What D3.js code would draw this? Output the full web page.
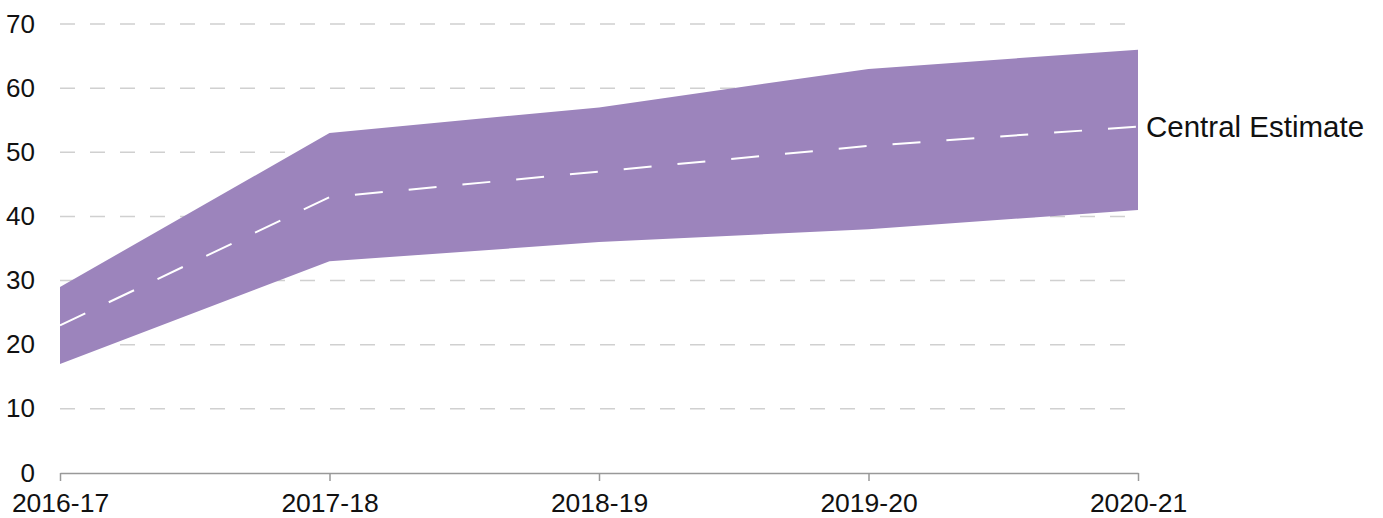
<!DOCTYPE html>
<html>
<head>
<meta charset="utf-8">
<script src="https://cdn.jsdelivr.net/npm/d3@7"></script>
<style>
  body { margin: 0; background: #fff; }
  svg { display: block; font-family: "Liberation Sans", Arial, sans-serif; }
</style>
</head>
<body>
<div id="chart"></div>
<script>
const years = ["2016-17", "2017-18", "2018-19", "2019-20", "2020-21"];
const upper = [29, 53, 57, 63, 66];
const lower = [17, 33, 36, 38, 41];
const central = [23, 43, 47, 51, 54];
const yTicks = [0, 10, 20, 30, 40, 50, 60, 70];

const width = 1383, height = 518;
const svg = d3.select("#chart").append("svg")
    .attr("width", width)
    .attr("height", height);

const x = d3.scalePoint().domain(years).range([60, 1138]);
const y = d3.scaleLinear().domain([0, 70]).range([473, 24]);

// dashed gridlines
svg.append("g")
    .selectAll("line")
    .data(yTicks.filter(d => d > 0))
    .enter()
    .append("line")
    .attr("x1", 60)
    .attr("x2", 1138)
    .attr("y1", d => y(d))
    .attr("y2", d => y(d))
    .attr("stroke", "#d0d0d0")
    .attr("stroke-width", 1.5)
    .attr("stroke-dasharray", "15,15");

// y labels
svg.append("g")
    .selectAll("text")
    .data(yTicks)
    .enter()
    .append("text")
    .attr("x", 35)
    .attr("y", d => y(d))
    .attr("dy", "0.33em")
    .attr("text-anchor", "end")
    .style("font-size", "26px")
    .attr("fill", "#111")
    .text(d => d);

const rows = years.map((yr, i) => ({ yr, lo: lower[i], hi: upper[i], mid: central[i] }));

svg.append("path")
    .datum(rows)
    .attr("fill", "#9c84bc")
    .attr("d", d3.area().x(d => x(d.yr)).y0(d => y(d.lo)).y1(d => y(d.hi)));

svg.append("path")
    .datum(rows)
    .attr("fill", "none")
    .attr("stroke", "#fff")
    .attr("stroke-width", 2)
    .attr("stroke-dasharray", "28,26")
    .attr("d", d3.line().x(d => x(d.yr)).y(d => y(d.mid)));

// x axis
const xAxis = svg.append("g")
    .attr("transform", `translate(0,${y(0)})`)
    .call(d3.axisBottom(x).tickSize(8).tickSizeOuter(0));
xAxis.select(".domain").attr("stroke", "#999").attr("stroke-width", 1.5);
xAxis.selectAll(".tick line").attr("stroke", "#999").attr("stroke-width", 1.5);
xAxis.selectAll(".tick text")
    .attr("y", 39)
    .attr("dy", 0)
    .style("font-size", "26.5px")
    .style("font-family", "'Liberation Sans', Arial, sans-serif")
    .attr("fill", "#111");

svg.append("text")
    .attr("x", 1146)
    .attr("y", y(central[central.length - 1]))
    .attr("dy", "0.35em")
    .style("font-size", "29.5px")
    .attr("fill", "#111")
    .text("Central Estimate");
</script>
</body>
</html>
